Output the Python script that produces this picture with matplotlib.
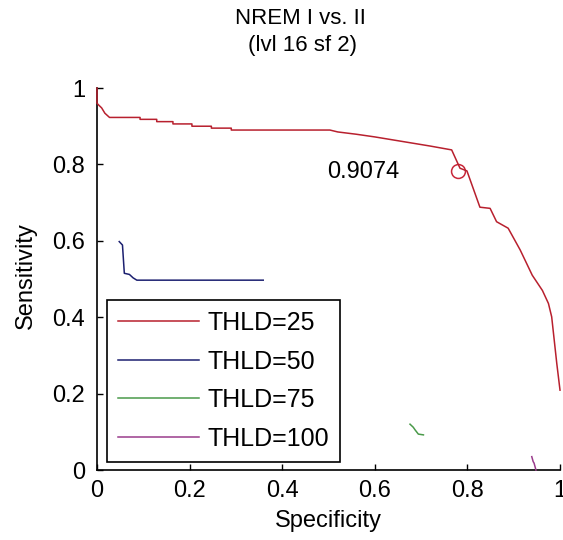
import matplotlib
matplotlib.use("Agg")
import matplotlib.pyplot as plt

# ROC curves: (specificity, sensitivity)
spec_25 = [0.0, 0.0, 0.004, 0.010, 0.017, 0.027, 0.093, 0.093, 0.129, 0.129, 0.164, 0.164,
           0.205, 0.205, 0.247, 0.247, 0.290, 0.290, 0.503, 0.52, 0.56, 0.60, 0.64,
           0.68, 0.72, 0.766, 0.784, 0.799, 0.827, 0.849, 0.863, 0.888, 0.914, 0.940,
           0.962, 0.975, 0.982, 0.993, 1.0]
sens_25 = [1.0, 0.96, 0.955, 0.948, 0.934, 0.923, 0.923, 0.918, 0.918, 0.912, 0.912, 0.906,
           0.906, 0.900, 0.900, 0.895, 0.895, 0.890, 0.890, 0.885, 0.879, 0.872, 0.864,
           0.856, 0.848, 0.838, 0.790, 0.783, 0.688, 0.685, 0.650, 0.633, 0.576, 0.510,
           0.470, 0.436, 0.401, 0.279, 0.209]

spec_50 = [0.048, 0.055, 0.059, 0.070, 0.078, 0.086, 0.359]
sens_50 = [0.598, 0.589, 0.515, 0.512, 0.503, 0.497, 0.497]

spec_75 = [0.676, 0.683, 0.687, 0.694, 0.705]
sens_75 = [0.120, 0.112, 0.105, 0.094, 0.092]

spec_100 = [0.939, 0.942, 0.944, 0.948]
sens_100 = [0.035, 0.022, 0.018, 0.0]

labels = ["THLD=25", "THLD=50", "THLD=75", "THLD=100"]
colors = ["#b8202e", "#1c2070", "#4a9a4a", "#9a3c8c"]

op_point = (0.78, 0.784)
auc_text = "0.9074"

plt.rcParams['font.family'] = ['Liberation Sans', 'DejaVu Sans']

fig = plt.figure(figsize=(5.63, 5.40), dpi=100)
ax = fig.add_axes([0.1723, 0.1296, 0.8224, 0.7074])

series = [(spec_25, sens_25), (spec_50, sens_50), (spec_75, sens_75), (spec_100, sens_100)]
for (xs, ys), lab, c in zip(series, labels, colors):
    ax.plot(xs, ys, color=c, lw=1.1, label=lab, zorder=3, clip_on=False)

ax.plot(*op_point, 'o', mfc='none', mec='#c8283a', ms=10, mew=1.1)
ax.text(0.497, 0.78, auc_text, fontsize=17, va='center', ha='left')

ax.set_xlim(0, 1)
ax.set_ylim(0, 1)
ticks = [0, 0.2, 0.4, 0.6, 0.8, 1]
ticklabels = ["0", "0.2", "0.4", "0.6", "0.8", "1"]
ax.set_xticks(ticks)
ax.set_xticklabels(ticklabels)
ax.set_yticks(ticks)
ax.set_yticklabels(ticklabels)
ax.tick_params(direction='in', length=4.5, width=1, labelsize=17)
ax.tick_params(axis='y', pad=8.5)
ax.tick_params(axis='x', pad=7)
for s in ['top', 'right']:
    ax.spines[s].set_visible(False)
for s in ['left', 'bottom']:
    ax.spines[s].set_linewidth(1.2)

ax.set_xlabel("Specificity", fontsize=17)
ax.set_ylabel("Sensitivity", fontsize=17)
ax.xaxis.set_label_coords(0.5, -0.105)
ax.yaxis.set_label_coords(-0.13, 0.51)

leg = ax.legend(loc='lower left', bbox_to_anchor=(0.022, 0.021), borderaxespad=0,
                fontsize=18, handlelength=3.24, handletextpad=0.32, labelspacing=0.58,
                borderpad=0.45, fancybox=False, framealpha=1, edgecolor='black')
leg.get_frame().set_linewidth(1.2)
leg.set_zorder(5)

fig.text(300 / 563, 1 - 19 / 540, "NREM I vs. II", fontsize=16, ha='center', va='center')
fig.text(303 / 563, 1 - 45 / 540, "(lvl 16 sf 2)", fontsize=16, ha='center', va='center')

fig.savefig("out.png", dpi=100)
